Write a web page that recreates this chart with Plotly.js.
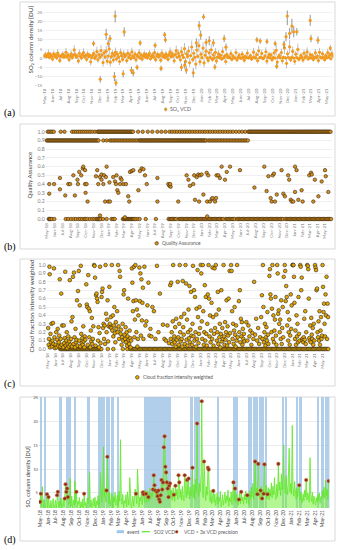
<!DOCTYPE html>
<html><head><meta charset="utf-8">
<script src="https://cdn.plot.ly/plotly-3.0.1.min.js"></script>
<style>html,body{margin:0;padding:0;background:#fff;}#chart{width:339px;height:550px;}</style>
</head><body><div id="chart"></div>
<script>
// ---------- DATA ----------
// day offsets are counted from 1 May 2018
const monthTickStart = '2018-05-01';
const xRange = ['2018-04-27', '2021-05-27'];

// (a) SO2 VCD, one sample every 4 days from 1 May 2018
const vcdStepDays = 4;
const vcdVals = [
1.2,2.0,0.8,1.5,2.6,0.4,1.9,1.1,-0.5,2.3,
1.0,1.7,0.2,2.8,1.4,-1.2,0.9,1.6,2.1,0.5,
1.3,3.2,0.7,1.8,-0.8,1.1,2.4,0.3,1.5,4.5,
2.0,0.6,1.2,-1.5,2.7,1.0,0.1,1.9,3.1,0.8,
1.4,-0.6,2.2,0.9,1.6,-2.0,0.4,1.8,2.5,0.0,
1.1,3.6,-0.9,2.0,0.5,4.2,1.7,-2.4,2.9,0.6,
3.8,-1.6,1.2,5.1,-2.2,0.8,2.6,-1.0,1.5,3.3,
-0.4,2.1,0.7,-1.8,3.0,1.3,-0.7,2.4,0.9,1.6,
-1.3,2.7,0.4,1.8,-0.2,3.4,1.0,0.3,2.2,-0.9,
1.5,0.8,2.9,0.1,1.7,-0.5,1.2,2.4,0.6,1.9,
0.2,1.4,2.6,-0.3,1.0,1.8,0.5,3.0,-0.8,1.3,
2.1,0.7,1.5,-1.1,2.8,0.9,1.6,0.3,2.2,1.0,
-0.6,1.9,3.4,0.8,2.5,1.2,-1.4,2.0,4.1,0.5,
2.7,1.1,-0.9,3.6,1.8,0.4,5.2,-1.7,2.3,0.9,
3.9,-2.5,1.4,6.1,-0.8,2.7,0.5,-3.2,4.4,1.0,
6.8,-1.9,2.2,0.3,5.5,-2.6,1.6,3.8,0.2,-1.2,
2.9,0.4,4.6,-0.7,1.8,0.1,3.2,-1.5,0.6,2.4,
0.3,1.5,-0.4,3.6,0.2,1.1,-1.8,2.0,0.4,0.9,
0.2,2.5,-0.6,1.3,0.3,0.1,3.1,-0.9,0.5,1.7,
0.2,0.0,2.2,0.4,-1.1,1.0,0.3,2.8,0.1,0.6,
1.4,-0.5,0.2,3.3,0.4,0.1,1.9,-1.3,4.0,0.3,
0.5,2.6,-0.2,0.1,1.2,3.5,-1.6,0.4,2.0,0.2,
1.8,-0.8,0.3,2.9,0.1,4.3,-2.1,0.6,1.5,0.2,
3.1,-1.4,0.4,5.6,0.2,-2.8,2.4,0.3,6.2,-0.9,
0.5,3.7,0.1,-1.7,2.2,0.3,4.8,-0.6,0.2,1.6,
0.4,-1.0,2.7,0.2,1.1,3.4,-0.4,0.3,2.0,0.1,
1.5,-0.7,0.4,2.9,0.2,1.2,-1.3,3.2,0.5,0.1,
2.3,0.3,-0.8,1.4,0.2,3.0,0.6,1.8,-0.3,2.5,
1.2];
const vcdErr = [
1.2,1.6,1.0,1.4,2.0,1.1,1.5,1.2,1.3,1.8,
1.0,1.4,1.2,2.2,1.3,1.5,1.1,1.4,1.7,1.0,
1.2,2.4,1.0,1.5,1.4,1.1,1.9,1.2,1.3,2.6,
1.6,1.1,1.2,1.8,2.0,1.0,1.3,1.5,2.3,1.1,
1.3,1.4,1.8,1.1,1.4,2.0,1.2,1.5,1.9,1.3,
1.2,2.6,1.6,1.7,1.1,2.9,1.4,2.2,2.1,1.3,
2.8,2.0,1.3,3.2,2.4,1.2,2.0,1.6,1.4,2.5,
1.4,1.8,1.1,2.0,2.3,1.2,1.5,1.9,1.1,1.4,
1.7,2.0,1.0,1.5,1.2,2.4,1.1,1.0,1.8,1.5,
1.3,1.0,2.1,1.1,1.4,1.3,1.2,1.8,1.0,1.5,
1.1,1.3,1.9,1.2,1.0,1.5,1.1,2.2,1.4,1.2,
1.7,1.0,1.3,1.6,2.0,1.1,1.4,1.0,1.8,1.1,
1.3,1.6,2.5,1.1,1.9,1.2,1.7,1.6,2.8,1.0,
2.0,1.1,1.5,2.6,1.5,1.0,3.1,1.9,1.8,1.2,
2.7,2.4,1.3,3.5,1.5,2.0,1.1,2.9,3.0,1.2,
3.6,2.2,1.8,1.0,3.2,2.5,1.4,2.6,1.0,1.6,
2.2,1.1,3.0,1.4,1.5,1.0,2.4,1.7,1.1,1.9,
1.0,1.3,1.1,2.5,1.0,1.2,1.8,1.6,1.0,1.1,
0.8,1.9,1.2,1.1,0.9,0.8,2.2,1.3,1.0,1.4,
0.8,0.7,1.7,1.0,1.4,1.1,0.9,2.0,0.8,1.0,
1.2,1.1,0.8,2.3,1.0,0.8,1.5,1.6,2.8,0.9,
1.0,2.0,0.9,0.8,1.1,2.4,1.8,1.0,1.6,0.8,
1.5,1.3,0.9,2.1,0.8,2.9,2.2,1.0,1.3,0.8,
2.2,1.7,1.0,3.4,0.9,2.8,1.8,1.0,3.7,1.3,
1.0,2.6,0.8,2.0,1.7,0.9,3.1,1.2,0.8,1.4,
1.0,1.5,1.9,0.8,1.1,2.4,1.0,0.9,1.6,0.8,
1.3,1.2,1.0,2.1,0.8,1.1,1.6,2.3,1.0,0.8,
1.8,0.9,1.2,1.3,0.8,2.2,1.0,1.5,1.0,1.9,
1.2];
// [day, VCD, error]
const vcdHigh = [
[191,8.0,1.5],[217,-11.5,1.8],[240,13.0,3.0],[248,8.0,2.0],[255,10.7,2.0],[275,23.0,3.5],
[272,-10.0,2.5],[278,-13.5,2.0],[310,14.3,2.5],[306,-8.5,2.0],[338,-6.6,2.0],[345,-8.0,2.0],
[360,-5.0,1.5],[372,8.3,1.5],[430,7.0,1.5],[453,-5.6,1.5],[467,12.8,1.5],[470,10.0,1.5],
[532,-5.0,2.0],[545,-3.8,2.0],[551,-6.5,2.0],[578,-8.0,2.5],[590,8.3,2.5],[601,17.7,2.5],
[607,12.6,2.5],[618,22.6,1.5],[628,8.6,2.0],[640,9.5,2.5],[656,8.3,2.0],[662,-4.8,1.5],
[698,10.7,2.0],[705,6.0,2.0],[825,10.0,1.5],[838,9.3,1.5],[864,9.1,1.5],[896,8.0,1.5],
[902,-4.4,1.5],[930,7.5,2.0],[938,11.7,2.5],[943,23.0,5.0],[952,13.5,3.0],[961,17.5,4.0],
[968,14.4,3.0],[980,14.4,2.0],[1032,20.6,3.0],[1035,10.7,2.0],[1062,9.8,2.0],[1110,5.5,1.5]];

// (b) Quality Assurance: days with QA 1.0, 0.9, 0.0 and [day, QA] for the rest
const qaOneDays = [4,10,16,22,28,55,70,100,108,116,124,132,140,148,156,164,172,180,190,
200,204,208,212,216,220,224,228,232,236,240,244,248,252,256,260,264,268,272,276,280,284,288,292,296,300,304,308,312,316,320,324,328,332,336,340,
360,378,398,416,436,452,468,
484,494,504,514,524,534,544,554,564,574,584,594,604,614,624,634,644,654,664,674,684,694,704,714,724,734,746,758,770,782,
794,798,802,806,810,814,818,822,826,830,834,838,842,846,850,854,858,862,866,870,874,878,882,886,890,894,898,902,906,910,914,918,922,926,930,934,938,942,946,950,954,958,962,966,970,974,978,982,986,990,994,998,1002,1006,1010,1014,1018,1022,1026,1030,1034,1038,1042,1046,1050,1054,1058,1062,1066,1070,1074,1078,1082,1086,1090,1094,1098,1102,1106,1110,1114,1118];
const qaNineDays = [0,4,8,12,16,20,24,28,32,36,40,44,48,52,56,60,64,68,72,76,80,84,88,92,96,100,104,108,112,116,120,124,128,132,136,140,144,148,152,156,160,164,168,172,176,180,184,188,192,196,200,204,
223,236,249,255,261,267,273,279,285,291,297,303,309,315,321,327,333,339,345,351,357,
364,368,372,376,380,384,388,392,396,400,404,408,412,416,420,424,428,432,436,440,444,448,452,456,460,464,468,472,476,480,484,488,492,496,500,504,508,512,516,520,524,528,532,536,540,544,548,552,556,560,564,568,572,576,580,584,588,592,596,600,604,608,612,616,620,624,628,
636,642,648,654,660,666,672,678,684,690,696,702,708,714,720,726,732,738,744,750,756,762,768,774,780,786,792];
const qaZeroDays = [8,11,14,20,30,75,85,96,106,115,125,132,140,148,153,160,170,180,188,196,200,204,208,212,222,236,255,262,268,300,304,308,312,316,320,324,328,332,336,340,344,350,358,366,390,430,
480,485,490,495,500,505,510,520,525,530,535,540,545,550,555,560,565,570,575,580,585,590,595,600,605,610,615,620,625,630,635,640,645,650,655,660,665,670,675,680,685,690,695,705,710,715,720,725,730,735,740,750,755,760,765,770,775,780,785,790,795,800,805,810,815,820,825,830,835,840,845,850,855,860,865,870,875,880,885,890,895,900,905,910,915,920,925,930,940,945,950,955,960,965,970,975,980,985,990,995,1000,1005,1010,1015,1020,1025,1030,1035,1040,1045,1050,1055,1060,1065,1070,1075,1080,1085,1090,1095,1100,1105,1110,1115,1120];
const qaOther = [[10,0.40],[10,0.29],[29,0.40],[52,0.47],[52,0.34],[73,0.27],[85,0.40],[92,0.40],[105,0.50],[111,0.27],
[121,0.45],[123,0.40],[128,0.54],[136,0.50],[142,0.58],[144,0.60],[151,0.56],[151,0.40],[153,0.30],[157,0.40],[161,0.20],
[194,0.49],[199,0.56],[203,0.40],[210,0.48],[216,0.45],[216,0.51],[223,0.40],[226,0.50],[230,0.20],[233,0.48],[236,0.60],
[243,0.20],[247,0.42],[249,0.20],[262,0.48],[269,0.43],[273,0.40],[275,0.50],[278,0.33],[282,0.30],[289,0.40],[291,0.47],
[295,0.45],[302,0.40],[312,0.40],[321,0.26],[325,0.20],[328,0.54],[335,0.55],[341,0.56],[361,0.33],[367,0.55],[374,0.58],
[381,0.57],[387,0.50],[394,0.40],[436,0.47],[436,0.20],[479,0.40],[483,0.38],[488,0.37],[486,0.40],[518,0.20],[551,0.50],
[558,0.45],[564,0.38],[577,0.40],[581,0.50],[584,0.22],[591,0.48],[597,0.51],[600,0.20],[604,0.50],[610,0.51],[617,0.28],
[630,0.53],[632,0.20],[636,0.50],[643,0.20],[650,0.23],[653,0.24],[663,0.20],[667,0.24],[669,0.50],[676,0.50],[682,0.47],
[689,0.60],[702,0.45],[709,0.54],[722,0.60],[761,0.56],[818,0.36],[857,0.60],[866,0.32],[873,0.49],[882,0.24],[886,0.20],
[890,0.50],[895,0.52],[899,0.20],[906,0.28],[925,0.56],[932,0.29],[938,0.26],[951,0.50],[955,0.45],[961,0.22],[965,0.20],
[971,0.20],[978,0.31],[978,0.60],[984,0.56],[991,0.22],[1004,0.33],[1008,0.20],[1034,0.50],[1041,0.53],[1044,0.51],[1050,0.20],
[1056,0.45],[1070,0.26],[1083,0.43],[1096,0.56],[1099,0.49],[1109,0.31],[210,0.04],[308,0.02],[632,0.03]];

// (c) Cloud fraction intensity weighted: [day, value] and days with value 0
const cfPoints = [
[2,0.25],[4,0.05],[5,0.12],[7,0.98],[8,0.89],[9,0.02],[11,0.18],[13,0.08],[15,0.30],[17,0.03],[19,0.10],[21,0.31],[23,0.06],[25,0.96],[27,0.14],[29,0.01],
[32,0.05],[34,0.20],[36,0.02],[38,0.11],[40,0.24],[42,0.04],[44,0.08],[46,0.16],[48,0.83],[50,0.03],[52,0.12],[54,0.66],[56,0.05],[58,0.28],
[62,0.02],[64,0.28],[66,0.07],[68,0.13],[70,0.92],[72,0.04],[74,0.10],[76,0.20],[78,0.01],[80,0.06],[82,0.15],[84,0.03],[86,0.09],[88,0.82],[90,0.05],
[93,0.12],[95,0.33],[97,0.03],[99,0.38],[101,0.86],[103,0.06],[105,0.91],[107,0.14],[109,0.02],[111,0.24],[113,0.08],[115,0.11],[117,0.58],[119,0.04],[121,0.69],
[124,0.93],[126,0.10],[128,0.52],[130,0.03],[132,0.99],[134,0.18],[136,0.07],[138,0.13],[140,0.05],[142,0.27],[144,0.09],[146,0.02],[148,0.15],[150,0.11],
[154,0.77],[156,0.53],[158,0.50],[160,0.05],[162,0.88],[164,0.48],[166,0.14],[168,0.45],[170,0.02],[172,0.22],[174,0.09],[176,0.37],[178,0.06],[180,0.12],[182,0.27],
[185,1.00],[187,0.99],[189,0.85],[191,0.04],[193,0.64],[195,0.66],[197,0.60],[199,0.56],[201,0.10],[203,0.26],[205,0.02],[207,0.19],[209,0.98],[211,0.07],
[215,0.62],[217,0.68],[219,0.72],[221,0.25],[223,0.30],[225,0.12],[227,0.28],[229,0.06],[231,1.00],[233,0.42],[235,0.20],[237,0.35],[239,0.58],[241,0.09],[243,0.27],
[246,0.74],[248,0.30],[250,0.26],[252,0.38],[254,0.25],[256,1.00],[258,0.22],[260,0.40],[262,0.15],[264,0.28],[266,0.50],[268,0.19],[270,0.08],[272,0.32],[274,0.24],
[277,0.45],[279,0.20],[281,1.00],[283,0.27],[285,0.12],[287,0.93],[289,0.86],[291,0.18],[293,0.23],[295,0.05],[297,0.14],[299,0.30],[301,0.10],[303,0.65],
[305,0.70],[307,0.17],[309,0.12],[311,0.26],[313,0.08],[315,0.20],[317,0.04],[319,0.15],[321,0.60],[323,0.11],[325,0.06],[327,0.22],[329,0.13],[331,0.02],[333,0.10],
[336,0.96],[338,0.79],[340,0.45],[342,0.57],[344,0.98],[346,0.14],[348,0.35],[350,1.00],[352,0.58],[354,0.20],[356,0.47],[358,0.03],[360,0.12],[362,0.40],
[366,0.97],[368,0.57],[370,0.90],[372,0.16],[374,0.83],[376,0.34],[378,0.55],[380,0.73],[382,0.12],[386,0.98],[390,0.28],[394,0.33],
[398,0.52],[402,0.79],[406,0.16],[410,0.24],[414,0.15],[418,0.50],[424,0.45],[430,0.12],[436,0.99],[442,0.20],[448,0.66],
[460,0.29],[466,0.12],[472,0.10],[478,0.28],[484,0.07],
[489,0.76],[491,0.12],[493,0.79],[495,0.20],[497,0.06],[499,0.33],[501,1.00],[503,0.10],[505,0.15],[507,0.08],[509,0.26],[511,0.03],[513,0.36],[515,0.11],
[519,0.80],[521,0.14],[523,0.05],[525,0.30],[527,1.00],[529,0.20],[531,0.09],[533,0.38],[535,0.12],[537,0.03],[539,0.81],[541,0.26],[543,0.17],[545,0.42],[547,0.06],
[550,1.00],[552,0.78],[554,0.11],[556,0.35],[558,0.04],[560,0.20],[562,0.47],[564,0.13],[566,0.75],[568,0.08],[570,0.23],[572,0.68],[574,0.16],[576,0.05],[578,0.30],
[580,0.99],[582,0.15],[584,0.70],[586,0.10],[588,0.62],[590,0.20],[592,0.03],[594,0.48],[596,0.12],[598,0.94],[600,0.38],[602,0.07],[604,0.18],[606,0.50],[608,0.25],
[611,1.00],[613,0.90],[615,0.33],[617,0.12],[619,1.00],[621,0.45],[623,0.05],[625,0.20],[627,0.76],[629,0.10],[631,0.62],[633,0.18],[635,0.04],[637,0.30],[639,0.65],
[642,1.00],[644,0.60],[646,0.15],[648,0.40],[650,0.08],[652,0.22],[654,0.55],[656,0.12],[658,0.97],[660,0.38],[662,0.04],[664,0.18],[666,0.96],[668,0.25],
[671,1.00],[673,0.41],[675,0.10],[677,0.20],[679,0.68],[681,0.06],[683,0.47],[685,0.14],[687,0.30],[689,0.02],[691,0.18],[693,0.70],[695,0.09],[697,0.25],[699,0.12],
[702,1.00],[704,0.15],[706,0.05],[708,0.32],[710,0.11],[712,0.20],[714,0.58],[716,0.04],[718,0.27],[720,0.16],[722,0.60],[724,0.08],[726,0.93],[728,0.19],
[732,1.00],[734,0.93],[736,0.45],[738,0.12],[740,0.30],[742,0.06],[744,0.22],[746,0.50],[748,0.17],[750,0.03],[752,0.28],[754,0.10],[756,1.00],[758,0.14],
[763,0.57],[765,0.20],[767,0.70],[769,0.08],[771,0.36],[773,0.15],[775,0.32],[777,0.05],[779,0.24],[781,0.12],[783,0.18],[785,0.09],
[793,0.32],[797,0.10],[801,0.28],[805,0.15],[809,0.22],[813,0.05],[817,0.19],[821,0.12],
[824,0.80],[828,0.17],[832,0.36],[836,0.10],[840,0.25],[844,0.06],[848,0.14],[852,0.38],
[855,0.64],[857,0.12],[859,1.00],[861,0.50],[863,0.08],[865,0.20],[867,0.30],[869,0.04],[871,0.14],[873,0.26],[875,0.10],[877,0.44],[879,0.17],[881,0.06],
[885,0.87],[887,0.95],[889,0.65],[891,0.60],[893,0.20],[895,0.48],[897,1.00],[899,0.12],[901,0.40],[903,0.08],[905,0.22],[907,0.35],[909,0.62],[911,0.16],[913,0.05],
[916,1.00],[918,0.90],[920,0.42],[922,0.46],[924,0.30],[926,0.20],[928,0.35],[930,0.12],[932,0.58],[934,0.06],[936,0.25],[938,0.50],[940,0.14],[942,0.86],
[946,1.00],[948,0.93],[950,0.57],[952,0.75],[954,0.62],[956,0.28],[958,0.44],[960,0.10],[962,0.20],[964,0.35],[966,0.05],[968,0.16],[970,0.65],[972,0.24],[974,0.52],
[977,1.00],[979,1.00],[981,1.00],[983,0.86],[985,0.55],[987,0.12],[989,0.22],[991,0.05],[993,0.40],[995,0.15],[997,0.30],[999,0.08],[1001,0.62],[1003,0.18],[1005,0.10],
[1008,1.00],[1010,0.98],[1012,0.70],[1014,0.85],[1016,0.12],[1018,0.10],[1020,0.08],[1022,0.14],[1024,0.36],[1026,0.11],[1028,0.45],[1030,0.06],[1032,0.20],
[1036,1.00],[1038,0.99],[1040,0.95],[1042,0.60],[1044,0.13],[1046,0.10],[1048,0.28],[1050,0.08],[1052,0.37],[1054,0.17],[1056,0.12],[1058,0.25],[1060,0.05],[1062,0.30],[1064,0.10],
[1067,1.00],[1069,0.97],[1071,0.94],[1073,0.70],[1075,0.72],[1077,0.20],[1079,0.14],[1081,0.33],[1083,0.10],[1085,0.45],[1087,0.05],[1089,0.22],[1091,0.38],[1093,0.12],[1095,0.16],
[1097,1.00],[1099,0.74],[1101,0.44],[1103,0.54],[1105,0.30],[1107,0.15],[1109,0.65],[1111,0.40],[1113,0.86],[1115,0.12],[1117,0.54],[1119,0.38]];
const cfZeroDays = [50,54,58,62,66,70,74,78,82,86,90,94,98,102,106,110,114,118,122,126,130,134,138,142,146,150,154,158,162,166,170,174,178,182,186,190,194,198,202,206,210,214,240,262,300,318,
330,335,340,345,350,355,360,365,370,375,380,385,390,395,400,405,410,415,420,425,430,435,440,445,450,455,460,465,470,475,480,485,490,495,500,505,510,515,520,525,530,535,540,545,550,555,560,565,570,575,580,585,590,595,600,605,610,615,620,625,630,635,640,645,650,655,660,665,670,675,680,685,690,695,700,705,710,715,720,725,730,735,740,745,750,755,760,765,770,775,780,785,790,795,800,805,810,815,820,825,830,835,840,845,850,855,860,865,870,875,880,885,890,895,900,905,910,915,920,925,930,935,940,945,950,955,960,965,970,975,980,985,990,995,1000,1005,1010,1015,1020,1025,1030,1035,1040,1045,1050,1055,1060,1065,1070,1075,1080,1085,1090,1095,1100,1105,1110,1115,1120];

// (d) SO2 VCD every 3 days from 1 May 2018, points above 3x precision, event periods [first day, last day]
const so2StepDays = 3;
const so2Vals = [
3.1,4.8,2.2,6.3,1.4,3.6,2.5,1.1,3.0,4.7,
1.8,4.1,2.6,0.9,3.4,1.6,2.9,3.8,1.2,2.4,
3.5,1.7,4.5,5.2,1.9,3.2,2.3,3.9,1.3,2.8,
3.7,2.0,3.8,6.8,5.2,5.9,4.1,2.5,3.4,8.0,
2.1,4.3,1.6,3.5,2.4,7.5,2.8,5.2,1.9,3.3,
2.6,4.0,1.5,3.1,2.0,3.7,1.2,4.8,2.3,3.0,
1.7,3.9,2.7,4.2,9.3,2.1,3.5,1.4,2.9,3.8,
2.2,4.1,1.6,3.3,2.5,4.4,1.9,3.2,9.3,4.6,
3.0,5.8,14.7,4.2,6.0,3.1,5.5,12.6,4.0,2.7,
5.0,2.2,3.8,4.9,1.8,4.2,3.0,5.1,2.4,3.6,
4.5,2.1,5.3,3.2,16.2,4.0,2.6,4.7,1.9,3.4,
2.8,4.6,2.0,5.2,3.1,2.4,8.2,3.7,1.6,3.0,
4.3,2.2,3.9,5.8,4.8,2.7,10.0,3.5,2.0,4.1,
3.3,5.2,2.5,5.1,4.7,3.0,5.6,4.8,2.9,5.4,
4.1,3.2,6.0,3.7,5.0,4.2,5.7,8.7,6.6,5.5,
3.9,5.2,4.3,5.5,3.6,3.1,4.5,7.7,5.7,7.2,
14.6,16.9,10.5,9.3,7.2,5.9,4.1,6.5,7.0,3.8,
5.6,3.4,6.1,4.6,3.2,6.5,4.4,5.8,3.6,8.7,
7.2,4.0,5.7,3.5,6.4,4.6,3.3,8.7,5.0,3.9,
7.7,4.5,8.0,3.7,6.2,4.3,5.5,10.3,4.0,6.8,
3.6,7.9,5.1,19.6,6.4,4.2,7.0,5.3,8.8,24.3,
5.9,4.0,11.6,5.0,3.4,6.3,4.5,10.3,9.9,4.2,
3.1,5.6,2.7,4.3,5.4,3.0,4.8,2.3,3.9,5.0,
2.6,4.1,3.2,5.3,2.0,3.7,4.6,2.4,3.5,5.1,
2.8,4.4,3.3,5.6,2.2,4.0,3.1,5.2,2.5,4.3,
7.2,3.4,5.9,2.9,4.8,3.6,2.4,3.6,5.0,2.7,
5.2,3.3,4.1,2.6,4.7,3.5,5.4,2.8,4.5,3.9,
2.5,5.3,3.8,6.2,4.1,7.0,3.6,5.1,11.6,4.4,
6.0,4.7,11.1,5.4,3.9,5.5,6.3,3.8,5.7,4.8,
11.0,4.5,6.6,3.7,4.7,6.1,3.5,5.8,4.3,7.1,
3.9,6.4,4.6,8.2,5.0,3.6,6.8,4.2,11.1,5.5,
7.3,4.4,9.0,5.6,8.1,15.1,6.2,4.8,8.6,5.9,
4.6,8.3,14.4,5.2,7.0,4.7,19.2,6.5,4.3,7.4,
5.0,3.6,6.1,4.2,5.5,6.6,3.4,5.2,4.0,2.9,
4.8,3.3,5.6,4.1,7.7,3.5,5.0,4.4,3.0,12.4,
4.5,3.2,5.1,2.6,4.3,3.7,2.4,4.0,3.1,4.6,
3.4,5.0,2.8,4.2,3.6,5.5,4.1,6.2,3.8,7.7,
4.4,5.8,3.6,7.5];
const precisePoints = [[0,3.1],[3,4.8],[27,4.7],[33,4.1],[66,4.5],[69,5.2],[96,3.8],[99,6.8],[102,5.2],[105,5.9],[108,4.1],
[141,5.2],[171,4.8],[258,5.5],[261,12.6],[372,4.8],[399,5.1],[402,4.7],[411,4.8],[420,4.1],[438,5.7],[441,8.7],[444,6.6],[447,5.5],
[453,5.2],[456,4.3],[459,5.5],[462,3.6],[465,3.1],[468,4.5],[471,7.7],[474,5.7],[477,7.2],[480,14.6],[483,16.9],[486,10.5],[489,9.3],
[492,7.2],[495,5.9],[498,4.1],[501,6.5],[504,7.0],[519,4.6],[525,6.5],[537,8.7],[540,7.2],[561,8.7],[570,7.7],[576,8.0],[591,10.3],
[609,19.6],[627,24.3],[636,11.6],[651,10.3],[654,9.9],[672,5.4],[750,7.2],[756,5.9],[771,3.6],[780,5.2],[804,4.5],[834,11.6],[843,4.7],
[846,11.1],[855,5.5],[861,3.8],[867,4.8],[870,11.0],[882,4.7],[924,11.1],[1005,6.6],[1032,7.7],[1119,7.5]];
const eventRanges = [[0,8],[16,23],[75,85],[100,119],[132,137],[184,191],[225,252],[256,270],[276,285],[297,304],
[403,507],[582,592],[598,621],[686,693],[750,757],[760,766],[808,820],[826,845],[850,866],[873,880],
[938,946],[950,955],[993,1000],[1005,1015],[1074,1080],[1088,1100],[1105,1123]];

// text
const legendA = 'SO₂ VCD';
const legendB = 'Quality Assurance';
const legendC = 'Cloud fraction intensity weighted';
const legendD = ['event', 'SO2 VCD', 'VCD > 3x VCD precision'];
const titleSO2 = 'SO₂ column density [DU]';

// ---------- DRAWING ----------
const T0 = Date.UTC(2018, 4, 1);
const DAY = 86400000;
const toMs = d => T0 + d * DAY;
const FONT = 'Lato, "DejaVu Sans", sans-serif';
const H = 550, W = 339;
const py = p => 1 - p / H;   // pixel row -> paper y
const px = p => p / W;       // pixel col -> paper x

const C_A = '#f39a1c', C_B = '#d68d1f', C_C = '#e5a600', C_EV = 'rgba(157,195,230,0.8)', C_G = '#5fe827', C_DOT = '#8e2f1e';

const traces = [];
// (a)
traces.push({
  type: 'scatter', mode: 'markers', name: legendA,
  x0: T0, dx: vcdStepDays * DAY, y: vcdVals, xaxis: 'x', yaxis: 'y',
  marker: {color: C_A, size: 3.2},
  error_y: {type: 'data', array: vcdErr, color: '#939393', thickness: 0.6, width: 0}
});
traces.push({
  type: 'scatter', mode: 'markers', name: legendA,
  x: vcdHigh.map(r => toMs(r[0])), y: vcdHigh.map(r => r[1]), xaxis: 'x', yaxis: 'y',
  marker: {color: C_A, size: 3.2},
  error_y: {type: 'data', array: vcdHigh.map(r => r[2]), color: '#7a7a7a', thickness: 0.8, width: 0}
});
// (b)
const qaX = [], qaY = [];
qaNineDays.forEach(d => { qaX.push(toMs(d)); qaY.push(0.9); });
qaOneDays.forEach(d => { qaX.push(toMs(d)); qaY.push(1.0); });
qaZeroDays.forEach(d => { qaX.push(toMs(d)); qaY.push(0.0); });
qaOther.forEach(r => { qaX.push(toMs(r[0])); qaY.push(r[1]); });
traces.push({
  type: 'scatter', mode: 'markers', name: legendB,
  x: qaX, y: qaY, xaxis: 'x2', yaxis: 'y2', cliponaxis: false,
  marker: {color: C_B, size: 3.5, line: {color: '#2b1d08', width: 0.55}}
});
// (c)
const cfX = [], cfY = [];
cfZeroDays.forEach(d => { cfX.push(toMs(d)); cfY.push(0); });
cfPoints.forEach(r => { cfX.push(toMs(r[0])); cfY.push(r[1]); });
traces.push({
  type: 'scatter', mode: 'markers', name: legendC,
  x: cfX, y: cfY, xaxis: 'x3', yaxis: 'y3', cliponaxis: false,
  marker: {color: C_C, size: 3.7, line: {color: '#1a1a1a', width: 0.55}}
});
// (d)
traces.push({
  type: 'bar', name: legendD[0],
  x: eventRanges.map(r => toMs((r[0] + r[1] + 1) / 2)),
  y: eventRanges.map(() => 1),
  width: eventRanges.map(r => (r[1] - r[0] + 1) * DAY),
  xaxis: 'x4', yaxis: 'y4',
  marker: {color: C_EV, line: {width: 0}}
});
traces.push({
  type: 'scatter', mode: 'lines', name: legendD[1],
  x0: T0, dx: so2StepDays * DAY, y: so2Vals, xaxis: 'x4', yaxis: 'y5',
  fill: 'tozeroy', fillcolor: 'rgba(118,236,60,0.55)',
  line: {color: C_G, width: 0.8}
});
traces.push({
  type: 'scatter', mode: 'markers', name: legendD[2],
  x: precisePoints.map(r => toMs(r[0])), y: precisePoints.map(r => r[1]), xaxis: 'x4', yaxis: 'y5',
  marker: {color: C_DOT, size: 3.6, line: {color: '#d9823a', width: 0.5}}
});

const xBase = (dom, anchor, font) => ({
  type: 'date', domain: dom, anchor: anchor, range: xRange, tickformat: '%b-%y',
  dtick: 'M1', tick0: monthTickStart, tickangle: -90, showgrid: false, zeroline: false,
  showline: false, ticks: '', tickfont: font, fixedrange: true
});
const grayTick = {family: FONT, size: 4.6, color: '#808080'};
const yBase = (dom, anchor, rng, dtick, fmt, font, grid) => ({
  domain: dom, anchor: anchor, range: rng, dtick: dtick, tick0: 0, tickformat: fmt,
  showgrid: true, gridcolor: grid, gridwidth: 0.7, zeroline: false, showline: false, ticks: '',
  tickfont: font, fixedrange: true
});

const shapes = [[2, 116], [124, 249], [259, 386], [397, 541]].map(b => ({
  type: 'rect', xref: 'paper', yref: 'paper', x0: px(20), x1: px(335), y0: py(b[1]), y1: py(b[0]),
  line: {color: '#d9d9d9', width: 1}, fillcolor: 'rgba(0,0,0,0)', layer: 'below'
}));
const dotShape = (cx, cy, r, fill, lineC, lw) => ({
  type: 'circle', xref: 'paper', yref: 'paper', x0: px(cx - r), x1: px(cx + r), y0: py(cy + r), y1: py(cy - r),
  fillcolor: fill, line: {color: lineC, width: lw}
});
// legend symbols
shapes.push(dotShape(165.7, 109.3, 1.6, C_A, C_A, 0));
shapes.push({type: 'line', xref: 'paper', yref: 'paper', x0: px(165.7), x1: px(165.7), y0: py(111.5), y1: py(107.1), line: {color: '#939393', width: 0.6}});
shapes.push(dotShape(156.7, 243.3, 1.75, C_B, '#2b1d08', 0.5));
shapes.push(dotShape(137.3, 377.3, 1.85, C_C, '#1a1a1a', 0.5));
shapes.push({type: 'rect', xref: 'paper', yref: 'paper', x0: px(116.7), x1: px(124), y0: py(533.2), y1: py(530.2), fillcolor: 'rgba(157,195,230,0.95)', line: {width: 0}});
shapes.push({type: 'line', xref: 'paper', yref: 'paper', x0: px(141.7), x1: px(150), y0: py(531.7), y1: py(531.7), line: {color: C_G, width: 1.2}});
shapes.push(dotShape(176.7, 531.7, 1.5, C_DOT, '#d9823a', 0.4));

const ann = [];
const legText = (t, x, y, s) => ann.push({
  text: t, xref: 'paper', yref: 'paper', x: px(x), y: py(y), xanchor: 'left', yanchor: 'middle',
  showarrow: false, font: {family: FONT, size: s, color: '#595959'}
});
legText(legendA, 168, 109.3, 5.3);
legText(legendB, 159.5, 243.3, 4.9);
legText(legendC, 140.5, 377.3, 4.8);
legText(legendD[0], 125, 531.7, 5.0);
legText(legendD[1], 151.5, 531.7, 5.0);
legText(legendD[2], 181.5, 531.7, 5.0);

[['(a)', 113], ['(b)', 247], ['(c)', 384], ['(d)', 540]].forEach(a => ann.push({
  text: a[0], xref: 'paper', yref: 'paper', x: px(2), y: py(a[1]), xanchor: 'left', yanchor: 'middle',
  showarrow: false, font: {family: '"Liberation Serif", serif', size: 10, color: '#000'}
}));
[[titleSO2, 29.5, 40, 6.2],
 ['Quality Assurance', 29.5, 175, 5.9],
 ['Cloud fraction intensity weighted', 30.5, 306, 6.4],
 [titleSO2, 26.5, 477, 5.6]].forEach(t => ann.push({
  text: t[0], xref: 'paper', yref: 'paper', x: px(t[1]), y: py(t[2]), xanchor: 'center', yanchor: 'middle',
  textangle: -90, showarrow: false, font: {family: FONT, size: t[3], color: '#404040'}
}));

const layout = {
  width: W, height: H, margin: {l: 0, r: 0, t: 0, b: 0}, paper_bgcolor: '#fff', plot_bgcolor: 'rgba(0,0,0,0)',
  font: {family: FONT}, bargap: 0, barmode: 'overlay', showlegend: false,
  xaxis: xBase([px(43.3), px(333.4)], 'y', grayTick),
  yaxis: yBase([py(86.6), py(10.5)], 'x', [-15.5, 26], 5, '', {family: FONT, size: 4.4, color: '#808080'}, '#ececec'),
  xaxis2: xBase([px(45.7), px(331.6)], 'y2', grayTick),
  yaxis2: yBase([py(221.2), py(129.1)], 'x2', [-0.025, 1.03], 0.1, '.1f', {family: FONT, size: 5.2, color: '#808080'}, '#e8e8e8'),
  xaxis3: xBase([px(46.7), px(328.8)], 'y3', grayTick),
  yaxis3: yBase([py(351.1), py(262.5)], 'x3', [-0.025, 1.03], 0.1, '.1f', {family: FONT, size: 5.2, color: '#808080'}, '#e8e8e8'),
  xaxis4: xBase([px(39), px(329.4)], 'y4', {family: FONT, size: 5.0, color: '#404040'}),
  yaxis4: {domain: [py(508), py(397)], anchor: 'x4', range: [0, 1], visible: false, fixedrange: true},
  yaxis5: {overlaying: 'y4', anchor: 'x4', side: 'left', range: [1.8, 25.2], dtick: 5, tick0: 0,
           showgrid: true, gridcolor: '#e3e3e3', gridwidth: 0.7, zeroline: false, showline: false, ticks: '',
           tickfont: {family: FONT, size: 4.2, color: '#595959'}, fixedrange: true},
  shapes: shapes,
  annotations: ann
};
Plotly.newPlot('chart', traces, layout, {staticPlot: true, displayModeBar: false});
</script></body></html>
